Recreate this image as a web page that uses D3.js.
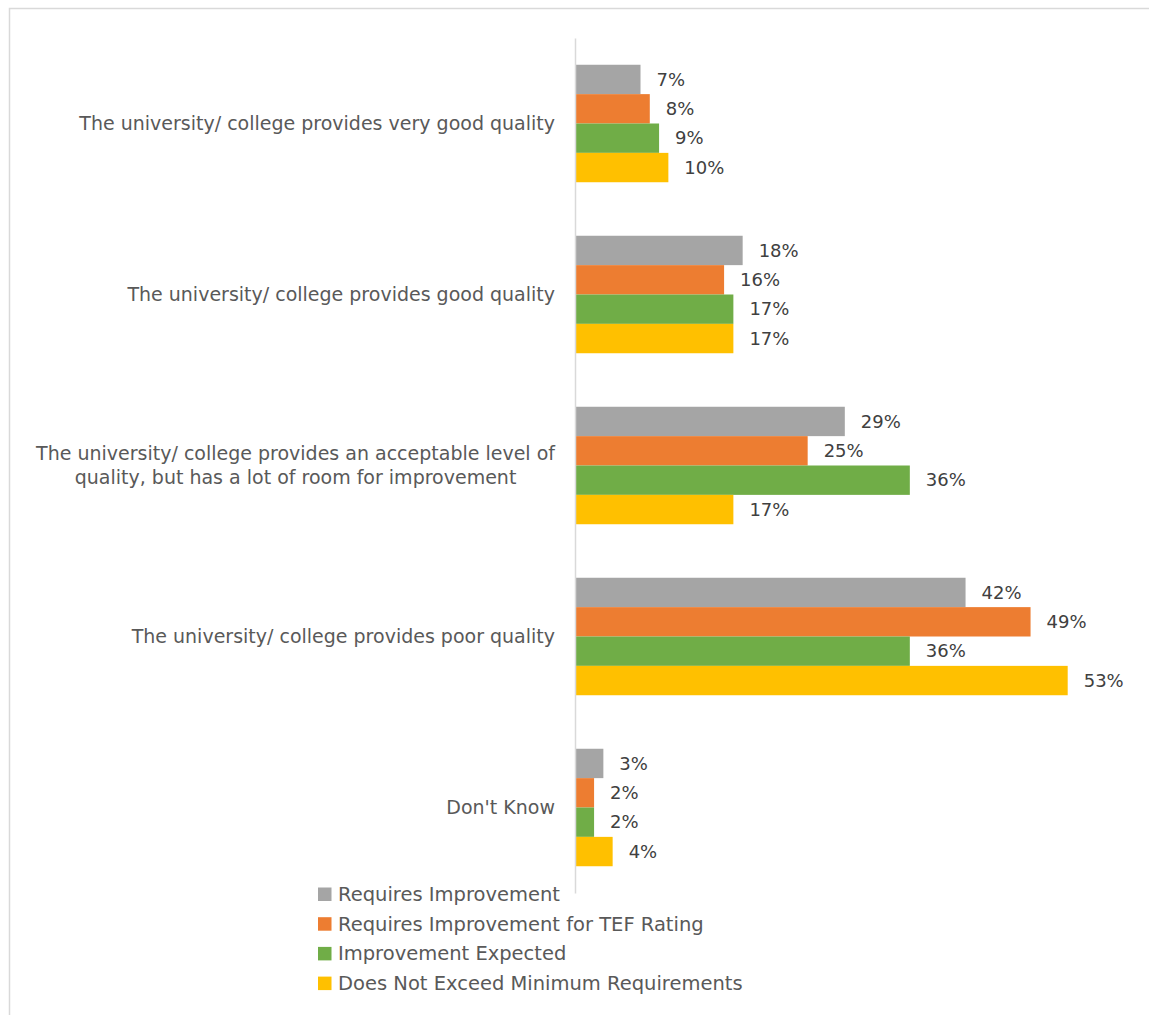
<!DOCTYPE html>
<html>
<head>
<meta charset="utf-8">
<script src="https://cdn.jsdelivr.net/npm/d3@7"></script>
<style>
  html, body { margin: 0; padding: 0; background: #fff; }
  svg { display: block; }
</style>
</head>
<body>
<svg id="chart" width="1149" height="1015"></svg>
<script>
// Response categories (top to bottom)
const categories = [
  ["The university/ college provides very good quality"],
  ["The university/ college provides good quality"],
  ["The university/ college provides an acceptable level of", "quality, but has a lot of room for improvement"],
  ["The university/ college provides poor quality"],
  ["Don't Know"]
];

// Series names
const seriesNames = [
  "Requires Improvement",
  "Requires Improvement for TEF Rating",
  "Improvement Expected",
  "Does Not Exceed Minimum Requirements"
];

// Percentages per series, one value per category
const requiresImprovement = [7, 18, 29, 42, 3];
const requiresImprovementTEF = [8, 16, 25, 49, 2];
const improvementExpected = [9, 17, 36, 36, 2];
const doesNotExceedMinimum = [10, 17, 17, 53, 4];

const seriesValues = [requiresImprovement, requiresImprovementTEF, improvementExpected, doesNotExceedMinimum];
const seriesColors = ["#A5A5A5", "#ED7D31", "#70AD47", "#FFC000"];

const FONT = "'DejaVu Sans', sans-serif";

const svg = d3.select("#chart");

// chart frame
svg.append("path")
  .attr("d", "M9.5,1015 V8.5 H1149")
  .attr("fill", "none")
  .attr("stroke", "#d9d9d9")
  .attr("stroke-width", 1.5);

const axisX = 575.5;
const y = d3.scaleBand()
  .domain(d3.range(categories.length))
  .range([38, 893])
  .paddingInner(0.313)
  .paddingOuter(0.1565);

const ySub = d3.scaleBand()
  .domain(d3.range(seriesNames.length))
  .range([0, y.bandwidth()]);

const x = d3.scaleLinear().domain([0, 53]).range([axisX, 1067.7]);

const rows = [];
categories.forEach((c, ci) => {
  seriesValues.forEach((vals, si) => {
    rows.push({ ci, si, v: vals[ci] });
  });
});

// bars
svg.append("g").selectAll("rect")
  .data(rows)
  .join("rect")
  .attr("x", x(0))
  .attr("y", d => y(d.ci) + ySub(d.si))
  .attr("width", d => x(d.v) - x(0))
  .attr("height", ySub.bandwidth())
  .attr("fill", d => seriesColors[d.si]);

// value labels
svg.append("g").selectAll("text")
  .data(rows)
  .join("text")
  .attr("x", d => x(d.v) + 16)
  .attr("y", d => y(d.ci) + ySub(d.si) + ySub.bandwidth() / 2)
  .attr("dy", "0.35em")
  .attr("font-family", FONT)
  .attr("font-size", 18)
  .attr("fill", "#404040")
  .text(d => d.v + "%");

// vertical category axis
const yAxis = d3.axisLeft(y).tickSize(0).tickFormat("");
const axisG = svg.append("g").attr("transform", `translate(${axisX - 0.5},0)`).call(yAxis);
axisG.select(".domain").attr("stroke", "#d9d9d9").attr("stroke-width", 1.5);

// category labels: the text block is right-aligned to the axis, lines centred within it
const labelRight = 555;
const catG = svg.append("g").selectAll("text")
  .data(categories)
  .join("text")
  .attr("text-anchor", "middle")
  .attr("font-family", FONT)
  .attr("font-size", 19)
  .attr("fill", "#595959");

catG.each(function(lines, i) {
  const t = d3.select(this);
  const lh = 24.5;
  const spans = lines.map((line, k) =>
    t.append("tspan")
      .attr("x", 0)
      .attr("y", (k - (lines.length - 1) / 2) * lh)
      .attr("dy", "0.35em")
      .text(line)
  );
  const maxW = d3.max(spans, s => s.node().getComputedTextLength());
  t.attr("transform", `translate(${labelRight - maxW / 2}, ${y(i) + y.bandwidth() / 2})`);
});

// legend
const legend = svg.append("g").attr("transform", "translate(318,887.5)");
const item = legend.selectAll("g")
  .data(seriesNames)
  .join("g")
  .attr("transform", (d, i) => `translate(0, ${i * 29.7})`);
item.append("rect")
  .attr("width", 13.5)
  .attr("height", 13.5)
  .attr("fill", (d, i) => seriesColors[i]);
item.append("text")
  .attr("x", 20)
  .attr("y", 6.75)
  .attr("dy", "0.35em")
  .attr("font-family", FONT)
  .attr("font-size", 19.5)
  .attr("fill", "#595959")
  .text(d => d);
</script>
</body>
</html>
